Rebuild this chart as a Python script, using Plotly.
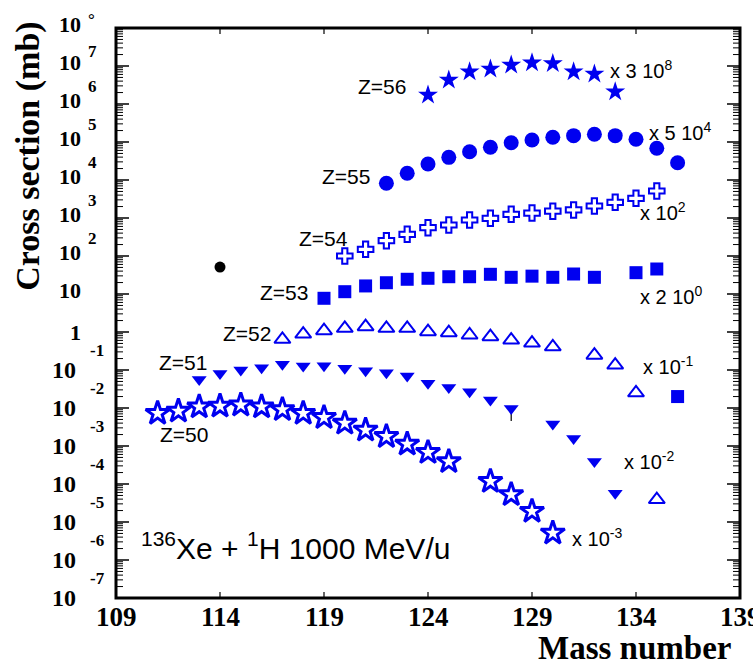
import plotly.graph_objects as go

# Scaled isotopic cross sections (mb) for 136Xe + p at 1000 MeV/u
z56_mass = [124, 125, 126, 127, 128, 129, 130, 131, 132, 133]
z56_sigma = [1.73e6, 4.29e6, 7.08e6, 8.32e6, 1.06e7, 1.22e7, 1.17e7, 7.08e6, 6.17e6, 2.09e6]

z55_mass = [122, 123, 124, 125, 126, 127, 128, 129, 130, 131, 132, 133, 134, 135, 136]
z55_sigma = [8.18e3, 1.50e4, 2.64e4, 3.95e4, 5.56e4, 7.26e4, 9.59e4, 1.13e5, 1.33e5,
             1.47e5, 1.60e5, 1.47e5, 1.18e5, 6.82e4, 2.85e4]

z54_mass = [120, 121, 122, 123, 124, 125, 126, 127, 128, 129, 130, 131, 132, 133, 134, 135]
z54_sigma = [100, 150, 253, 372, 556, 655, 885, 982, 1250, 1350, 1510, 1630, 2070, 2590, 3300, 5140]

z53_mass = [119, 120, 121, 122, 123, 124, 125, 126, 127, 128, 129, 130, 131, 132, 134, 135, 136]
z53_sigma = [7.71, 11.5, 16.3, 19.8, 24.4, 25.9, 28.5, 28.5, 33.0, 27.5, 29.5, 27.5, 33.6, 27.5,
             36.4, 45.5, 0.020]

z52_mass = [117, 118, 119, 120, 121, 122, 123, 124, 125, 126, 127, 128, 129, 130, 132, 133, 134, 135]
z52_sigma = [0.643, 0.885, 1.08, 1.25, 1.38, 1.25, 1.25, 1.02, 0.96, 0.834, 0.752, 0.615,
             0.513, 0.407, 0.245, 0.135, 0.0251, 3.9e-5]

z51_mass = [113, 114, 115, 116, 117, 118, 119, 120, 121, 122, 123, 124, 125, 126, 127, 128,
            130, 131, 132, 133]
z51_sigma = [0.0562, 0.0813, 0.100, 0.115, 0.141, 0.127, 0.130, 0.111, 0.0959, 0.0851, 0.0692,
             0.0447, 0.0347, 0.0269, 0.0162, 0.00977, 0.0038, 0.00158, 0.000389, 5.75e-5]
z51_err_minus = [0, 0, 0, 0, 0, 0, 0, 0, 0, 0, 0, 0, 0, 0, 0, 0.0052, 0, 0, 0, 0]

z50_mass = [111, 112, 113, 114, 115, 116, 117, 118, 119, 120, 121, 122, 123, 124, 125,
            127, 128, 129, 130]
z50_sigma = [0.00724, 0.00832, 0.0107, 0.0112, 0.0120, 0.0107, 0.00912, 0.00724, 0.00562,
             0.00398, 0.00263, 0.00178, 0.00112, 0.000676, 0.000389, 0.000117, 5.25e-5,
             1.91e-5, 5.13e-6]

stray_mass = [114]
stray_sigma = [51]

x_ticks = [109, 114, 119, 124, 129, 134, 139]
x_tick_text = ["109", "114", "119", "124", "129", "134", "139"]
y_exponents = [8, 7, 6, 5, 4, 3, 2, 1, 0, -1, -2, -3, -4, -5, -6, -7]
y_base_text = ["10", "10", "10", "10", "10", "10", "10", "10", "1",
               "10", "10", "10", "10", "10", "10", "10"]
y_sup_text = ["°", "7", "6", "5", "4", "3", "2", "", "", "-1", "-2", "-3", "-4", "-5", "-6", "-7"]
minor_mult = [2, 3, 4, 5, 6, 7, 8, 9]

# Element labels: text, mass, log10(sigma)
z_labels = [
    ("Z=56", 123.04, 6.45),
    ("Z=55", 121.31, 4.08),
    ("Z=54", 120.25, 2.45),
    ("Z=53", 118.33, 1.05),
    ("Z=52", 116.55, -0.03),
    ("Z=51", 113.47, -0.79),
    ("Z=50", 113.52, -2.71),
]
# Scale-factor labels: text, mass, log10(sigma)
scale_labels = [
    ("x 3 10<sup>8</sup>", 132.65, 6.92),
    ("x 5 10<sup>4</sup>", 134.53, 5.28),
    ("x 10<sup>2</sup>", 134.10, 3.18),
    ("x 2 10<sup>0</sup>", 134.10, 0.97),
    ("x 10<sup>-1</sup>", 134.24, -0.87),
    ("x 10<sup>-2</sup>", 133.33, -3.37),
    ("x 10<sup>-3</sup>", 130.83, -5.42),
]

BLUE = "#0000f0"
SERIF = "Liberation Serif"
SANS = "Liberation Sans"
PLOT_W, PLOT_H = 624, 570

fig = go.Figure()

def add_series(x, y, symbol, size, filled=True, lw=0, err_minus=None):
    err = None
    if err_minus is not None:
        err = dict(type="data", symmetric=False, array=[0] * len(err_minus),
                   arrayminus=err_minus, color="black", thickness=1.2, width=0)
    fig.add_trace(go.Scatter(
        x=x, y=y, mode="markers", showlegend=False, error_y=err,
        marker=dict(symbol=symbol, size=size,
                    color=BLUE if filled else "white",
                    line=dict(color=BLUE, width=lw)),
    ))

add_series(z56_mass, z56_sigma, "star", 15)
add_series(z55_mass, z55_sigma, "circle", 15)
add_series(z54_mass, z54_sigma, "cross", 13, filled=False, lw=2)
add_series(z53_mass, z53_sigma, "square", 13)
add_series(z52_mass, z52_sigma, "triangle-up", 14, filled=False, lw=2)
add_series(z51_mass, z51_sigma, "triangle-down", 13, err_minus=z51_err_minus)
add_series(z50_mass, z50_sigma, "star", 18, filled=False, lw=3)
fig.add_trace(go.Scatter(x=stray_mass, y=stray_sigma, mode="markers", showlegend=False,
                         marker=dict(symbol="circle", size=11, color="black")))

ann = []
# y tick labels: base "10" plus raised exponent
for base, sup, e in zip(y_base_text, y_sup_text, y_exponents):
    neg = e < 0
    ann.append(dict(x=0, xref="paper", y=e, yref="y", text=base, showarrow=False,
                    xanchor="right", yanchor="middle",
                    xshift=-38 if neg else -33, yshift=0 if (neg or e == 0) else 4,
                    font=dict(family=SERIF, size=24 if neg else 22, color="black", weight="bold")))
    if sup:
        ys = 20 if neg else (9 if e == 8 else (15 if e == 7 else 18))
        ann.append(dict(x=0, xref="paper", y=e, yref="y", text=sup, showarrow=False,
                        xanchor="left", yanchor="middle",
                        xshift=-28 if neg else -30, yshift=ys,
                        font=dict(family=SERIF, size=17, color="black", weight="bold")))

# x tick labels
for v, t in zip(x_ticks, x_tick_text):
    ann.append(dict(x=v, xref="x", y=0, yref="paper", text=t, showarrow=False,
                    xanchor="center", yanchor="middle", yshift=-19,
                    font=dict(family=SERIF, size=27, color="black", weight="bold")))

for text, x, ly in z_labels:
    ann.append(dict(x=x, y=ly, xref="x", yref="y", text=text, showarrow=False,
                    xanchor="right", yanchor="middle",
                    font=dict(family=SANS, size=21, color="black")))
for text, x, ly in scale_labels:
    ann.append(dict(x=x, y=ly, xref="x", yref="y", text=text, showarrow=False,
                    xanchor="left", yanchor="middle",
                    font=dict(family=SANS, size=20, color="black")))

ann.append(dict(x=110.1, y=-5.63, xref="x", yref="y",
                text="<sup>136</sup>Xe + <sup>1</sup>H 1000 MeV/u", showarrow=False,
                xanchor="left", yanchor="middle",
                font=dict(family=SANS, size=30, color="black")))
ann.append(dict(x=0.989, y=-0.088, xref="paper", yref="paper", text="Mass number",
                showarrow=False, xanchor="right", yanchor="middle",
                font=dict(family=SERIF, size=33, color="black", weight="bold")))
ann.append(dict(x=-0.141, y=0.774, xref="paper", yref="paper", text="Cross section (mb)",
                showarrow=False, textangle=-90, xanchor="center", yanchor="middle",
                font=dict(family=SERIF, size=34, color="black", weight="bold")))

# Frame and tick marks (inside, on all four sides); shape y values are data values
shapes = [dict(type="rect", xref="paper", yref="paper", x0=0, x1=1, y0=0, y1=1,
               line=dict(color="black", width=3), layer="above")]

def ytick(val, length, width):
    frac = length / PLOT_W
    for x0, x1 in ((0, frac), (1 - frac, 1)):
        shapes.append(dict(type="line", xref="paper", yref="y", x0=x0, x1=x1,
                           y0=val, y1=val, line=dict(color="black", width=width),
                           layer="above"))

for e in y_exponents:
    ytick(10.0 ** e, 13, 1.5)
for e in range(-7, 8):
    for m in minor_mult:
        ytick(m * 10.0 ** e, 7, 1)
for v in x_ticks[1:-1]:
    frac = 6 / PLOT_H
    for y0, y1 in ((0, frac), (1 - frac, 1)):
        shapes.append(dict(type="line", xref="x", yref="paper", x0=v, x1=v, y0=y0, y1=y1,
                           line=dict(color="black", width=1.2), layer="above"))

fig.update_layout(
    template="none",
    width=753, height=661,
    margin=dict(l=116, r=13, t=28, b=63, autoexpand=False),
    paper_bgcolor="white", plot_bgcolor="white",
    annotations=ann, shapes=shapes,
    xaxis=dict(range=[109, 139], showline=False, ticks="", showticklabels=False,
               showgrid=False, zeroline=False, automargin=False),
    yaxis=dict(type="log", range=[-7, 8], showline=False, ticks="", showticklabels=False,
               showgrid=False, zeroline=False, automargin=False),
)

fig.write_html("out.html")
